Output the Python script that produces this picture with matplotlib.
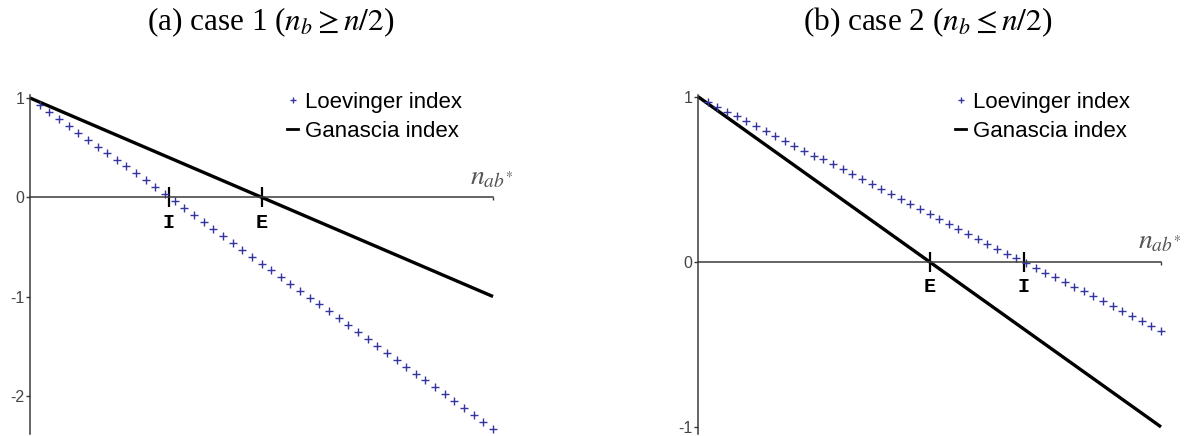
import matplotlib
matplotlib.use('Agg')
import matplotlib.pyplot as plt
from matplotlib.lines import Line2D

plt.rcParams['mathtext.fontset'] = 'stix'
plt.rcParams['font.family'] = 'Liberation Sans'

# sample index along n_ab* (same 48 steps in both panels)
n_ab = list(range(1, 49))

# case 1 (n_b >= n/2)
loev_a = [0.93, 0.86, 0.79, 0.72, 0.65, 0.58, 0.51, 0.45, 0.38, 0.31, 0.24, 0.17,
          0.10, 0.03, -0.04, -0.11, -0.18, -0.25, -0.32, -0.39, -0.46, -0.53, -0.60, -0.67,
          -0.73, -0.80, -0.87, -0.94, -1.01, -1.08, -1.15, -1.22, -1.29, -1.36, -1.43, -1.50,
          -1.57, -1.64, -1.71, -1.78, -1.84, -1.91, -1.98, -2.05, -2.12, -2.19, -2.26, -2.33]
# case 2 (n_b <= n/2)
loev_b = [0.97, 0.94, 0.91, 0.88, 0.85, 0.82, 0.79, 0.76, 0.73, 0.70, 0.67, 0.64,
          0.62, 0.59, 0.56, 0.53, 0.50, 0.47, 0.44, 0.41, 0.38, 0.35, 0.32, 0.29,
          0.26, 0.23, 0.20, 0.17, 0.14, 0.11, 0.08, 0.05, 0.02, -0.01, -0.04, -0.07,
          -0.09, -0.12, -0.15, -0.18, -0.21, -0.24, -0.27, -0.30, -0.33, -0.36, -0.39, -0.42]

# Ganascia index is a straight line from 1 to -1 in both cases
gan_x = [0, 48]
gan_y = [1, -1]

# where the two indexes cross zero
marks_a = {'I': 14.4, 'E': 24.0}
marks_b = {'E': 24.0, 'I': 33.8}

titles = [r'(a) case 1 ($n_b \geq n/2$)', r'(b) case 2 ($n_b \leq n/2$)']
yticks_a = [1, 0, -1, -2]
yticks_b = [1, 0, -1]

W, H = 1190, 436
fig = plt.figure(figsize=(W / 100, H / 100), dpi=100)

axis_col = '#3a3a3a'
blue = '#3535a0'
px = 0.72  # points per pixel


def panel(left_px, ylim, loev, marks, yticks):
    top_px, bot_px = 95, 433.5
    ax = fig.add_axes([left_px / W, (H - bot_px) / H, 463 / W, (bot_px - top_px) / H])
    ax.set_xlim(0, 48)
    ax.set_ylim(*ylim)
    for s in ['top', 'right']:
        ax.spines[s].set_visible(False)
    ax.spines['bottom'].set_position(('data', 0))
    for s in ['left', 'bottom']:
        ax.spines[s].set_color(axis_col)
        ax.spines[s].set_linewidth(1.1)
    ax.set_facecolor('none')

    ax.plot(gan_x, gan_y, color='black', lw=2.4, solid_capstyle='butt', clip_on=False)
    ax.plot(n_ab, loev, ls='none', marker='+', ms=5.5, mew=1.0, color=blue, clip_on=False)

    ax.set_yticks(yticks)
    ax.set_yticklabels([str(t) for t in yticks])
    ax.tick_params(axis='y', direction='out', length=3, width=1, color=axis_col,
                   labelsize=11.5, labelcolor='#444444', pad=1)

    # small end tick of the n_ab* axis
    ax.set_xticks([48])
    ax.set_xticklabels([''])
    ax.tick_params(axis='x', which='major', direction='out', length=2.5, width=1, color=axis_col)

    # I / E marks on the axis
    pos = list(marks.values())
    ax.set_xticks(pos, minor=True)
    ax.set_xticklabels(list(marks.keys()), minor=True)
    ax.tick_params(axis='x', which='minor', direction='inout', length=20 * px, width=1.6,
                   color='black', pad=4, labelsize=14.5)
    for lab in ax.get_xticklabels(minor=True):
        lab.set_fontfamily('Liberation Mono')
        lab.set_fontweight('bold')

    ax.annotate(r'$n_{ab^{*}}$', xy=(48, 0), xytext=(-23 * px, 13 * px),
                textcoords='offset points', ha='left', va='baseline',
                fontsize=20, color='#555555', annotation_clip=False)

    handles = [Line2D([], [], ls='none', marker='+', ms=5, mew=1.0, color=blue),
               Line2D([], [], color='black', lw=2.0)]
    ax.legend(handles, ['Loevinger index', 'Ganascia index'], loc='upper left',
              frameon=False, fontsize=16, handlelength=0.5, handletextpad=0.3,
              labelspacing=0.38, borderpad=0, borderaxespad=0,
              bbox_to_anchor=(0.555, 1.01))
    return ax


panel(30, (-2.38, 1.03), loev_a, marks_a, yticks_a)
panel(698, (-1.04, 1.01), loev_b, marks_b, yticks_b)

fig.text(271 / W, 1 - 22 / H, titles[0], ha='center', va='center',
         fontsize=22.5, family='Liberation Serif')
fig.text(928 / W, 1 - 22 / H, titles[1], ha='center', va='center',
         fontsize=22.5, family='Liberation Serif')

fig.savefig('out.png', dpi=100)
